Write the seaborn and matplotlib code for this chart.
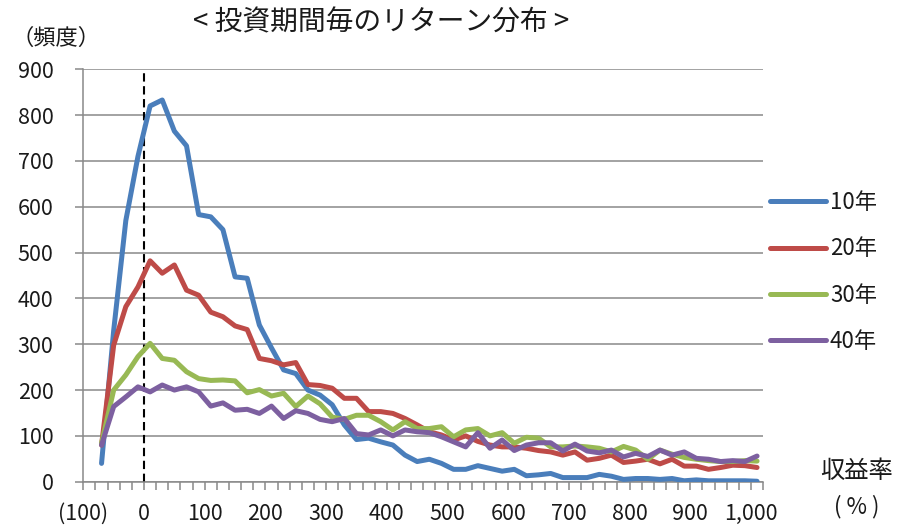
import numpy as np
import pandas as pd
import matplotlib
matplotlib.use("Agg")
import matplotlib.pyplot as plt
from matplotlib.lines import Line2D
from matplotlib.ticker import FixedLocator, MultipleLocator
import seaborn as sns

# Return bins (%), 20-point wide, plotted at bin centres
bin_centers = np.arange(-70, 1011, 20)

freq_10 = [40, 330, 570, 710, 820, 833, 765, 733, 583, 578,
           550, 447, 444, 342, 292, 244, 236, 200, 189, 168,
           124, 92, 95, 87, 80, 58, 44, 49, 40, 27,
           27, 35, 29, 23, 27, 13, 15, 18, 9, 9,
           9, 16, 12, 5, 7, 7, 5, 7, 2, 4,
           2, 2, 2, 2, 1]
freq_20 = [80, 298, 382, 425, 482, 455, 473, 418, 407, 370,
           360, 340, 332, 269, 264, 255, 260, 212, 210, 204,
           182, 182, 153, 153, 149, 138, 124, 109, 102, 91,
           100, 88, 80, 76, 76, 73, 68, 65, 58, 65,
           47, 51, 58, 42, 45, 49, 39, 49, 34, 34,
           27, 31, 36, 35, 31]
freq_30 = [84, 200, 233, 273, 302, 269, 265, 240, 225, 221,
           222, 220, 194, 201, 187, 193, 164, 187, 170, 141,
           136, 145, 145, 131, 113, 131, 116, 116, 120, 98,
           113, 116, 100, 107, 84, 97, 95, 76, 76, 78,
           76, 73, 65, 77, 69, 49, 69, 60, 53, 49,
           46, 44, 44, 46, 45]
freq_40 = [80, 164, 185, 207, 196, 211, 200, 207, 196, 165,
           172, 156, 158, 149, 165, 138, 155, 149, 136, 131,
           138, 105, 102, 113, 100, 113, 109, 107, 98, 87,
           76, 107, 73, 91, 68, 80, 85, 85, 67, 82,
           67, 63, 69, 54, 62, 55, 69, 58, 65, 51,
           49, 44, 46, 44, 56]

periods = ["10年", "20年", "30年", "40年"]
colors = ["#4A7EBB", "#BE4B48", "#98B954", "#7D60A0"]

x_tick_values = [-100, 0, 100, 200, 300, 400, 500, 600, 700, 800, 900, 1000]
x_tick_labels = ["(100)", "0", "100", "200", "300", "400", "500",
                 "600", "700", "800", "900", "1,000"]
y_tick_values = [0, 100, 200, 300, 400, 500, 600, 700, 800, 900]

df = pd.concat(
    [pd.DataFrame({"収益率": bin_centers, "頻度": vals, "期間": p})
     for p, vals in zip(periods, [freq_10, freq_20, freq_30, freq_40])],
    ignore_index=True,
)

sns.set_style("white")
plt.rcParams["font.family"] = ["Noto Sans CJK JP", "DejaVu Sans"]

text_color = "#1a1a1a"
grid_color = "#898989"

fig = plt.figure(figsize=(8.98, 5.29), dpi=100)
ax = fig.add_axes([0.0928, 0.0894, 0.757, 0.7796])

sns.lineplot(data=df, x="収益率", y="頻度", hue="期間", hue_order=periods,
             palette=colors, linewidth=3.6, solid_capstyle="round",
             solid_joinstyle="round", legend=False, ax=ax, zorder=3)

# zero-return marker
ax.axvline(0, color="black", linestyle=(0, (4, 2.2)), linewidth=1.5, zorder=2)

ax.set_xlim(-100, 1020)
ax.set_ylim(0, 900)

ax.xaxis.set_major_locator(FixedLocator(x_tick_values))
ax.set_xticklabels(x_tick_labels)
ax.xaxis.set_minor_locator(MultipleLocator(20))
ax.set_yticks(y_tick_values)
ax.set_xlabel("")
ax.set_ylabel("")

ax.yaxis.grid(True, color=grid_color, linewidth=1.1)
ax.xaxis.grid(False)
ax.set_axisbelow(True)

for side in ["top", "right"]:
    ax.spines[side].set_visible(False)
for side in ["left", "bottom"]:
    ax.spines[side].set_color(grid_color)
    ax.spines[side].set_linewidth(1.1)

ax.tick_params(axis="x", which="both", direction="out", length=5.5, width=1.1,
               color=grid_color, bottom=True)
ax.tick_params(axis="x", which="major", labelsize=15.5, labelcolor=text_color, pad=10)
ax.tick_params(axis="y", which="major", direction="out", length=5.5, width=1.1,
               color=grid_color, left=True, labelsize=15.5, labelcolor=text_color, pad=16)

handles = [Line2D([0], [0], color=c, linewidth=3.6, solid_capstyle="round")
           for c in colors]
fig.legend(handles, periods, loc="center left", bbox_to_anchor=(770 / 898, 1 - 272 / 529),
           frameon=False, fontsize=16, handlelength=2.5, handletextpad=0.2,
           labelspacing=1.05, borderpad=0, borderaxespad=0, labelcolor=text_color)

fig.text(381 / 898, 1 - 22 / 529, "< 投資期間毎のリターン分布 >", ha="center", va="center",
         fontsize=20, color=text_color)
fig.text(56 / 898, 1 - 38 / 529, "（頻度）", ha="center", va="center",
         fontsize=16, color=text_color)
fig.text(857 / 898, 1 - 471 / 529, "収益率", ha="center", va="center",
         fontsize=17.5, color=text_color)
fig.text(857 / 898, 1 - 507 / 529, "( % )", ha="center", va="center",
         fontsize=16, color=text_color)

fig.savefig("out.png", dpi=100)
